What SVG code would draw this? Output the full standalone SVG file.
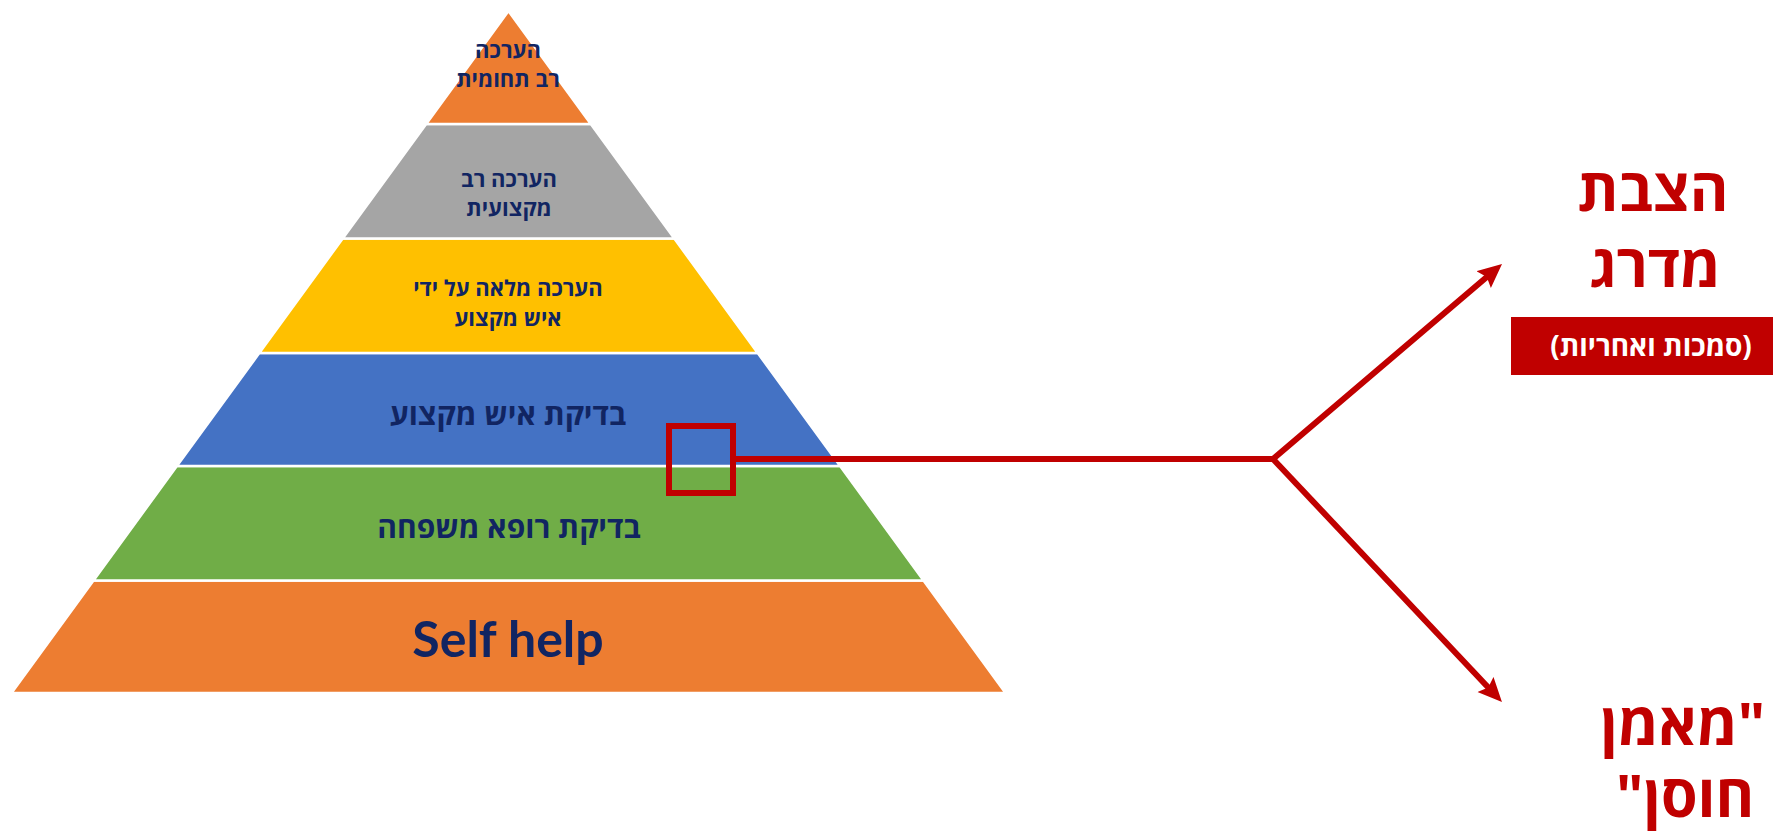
<svg xmlns="http://www.w3.org/2000/svg" width="1773" height="835" viewBox="0 0 1773 835">
<style>
.layer{stroke:#ffffff;stroke-width:2.5;stroke-linejoin:miter}
.pt{font-family:"Open Sans","Liberation Sans","DejaVu Sans",sans-serif;font-weight:700;fill:#112562;text-anchor:middle}
.red{font-family:"Open Sans","Liberation Sans","DejaVu Sans",sans-serif;font-weight:700;fill:#C00000;text-anchor:middle;font-size:59px}
.conn{fill:none;stroke:#C00000;stroke-width:6;stroke-linejoin:miter}
</style>
<defs>
<marker id="ah" markerUnits="userSpaceOnUse" markerWidth="26" markerHeight="24" refX="14" refY="11" orient="auto">
<path d="M0,0 L24,11 L0,22 L4,11 z" fill="#C00000"/>
</marker>
</defs>
<rect width="1773" height="835" fill="#ffffff"/>
<g id="level6">
<polygon class="layer" fill="#ED7D31" points="93.5,580.5 923.5,580.5 1005.5,693 11.5,693"/>
<text class="pt" x="508" y="657" style="font-family:Lato,'Open Sans',sans-serif;font-size:50px">Self help</text>
</g>
<g id="level5">
<polygon class="layer" fill="#70AD47" points="176.9,466 840.1,466 923.5,580.5 93.5,580.5"/>
<text class="pt" x="509" y="538" font-size="30">בדיקת רופא משפחה</text>
</g>
<g id="level4">
<polygon class="layer" fill="#4472C4" points="259.3,353 757.7,353 840.1,466 176.9,466"/>
<text class="pt" x="508" y="425" font-size="30">בדיקת איש מקצוע</text>
</g>
<g id="level3">
<polygon class="layer" fill="#FFC000" points="342.7,238.5 674.3,238.5 757.7,353 259.3,353"/>
<text class="pt" x="508" y="296" font-size="22">הערכה מלאה על ידי</text>
<text class="pt" x="508" y="326" font-size="22">איש מקצוע</text>
</g>
<g id="level2">
<polygon class="layer" fill="#A5A5A5" points="426.2,124 590.8,124 674.3,238.5 342.7,238.5"/>
<text class="pt" x="509" y="187" font-size="22">הערכה רב</text>
<text class="pt" x="509" y="216" font-size="22">מקצועית</text>
</g>
<g id="level1">
<polygon class="layer" fill="#ED7D31" points="508.5,11 590.8,124 426.2,124"/>
<text class="pt" x="508" y="58" font-size="22">הערכה</text>
<text class="pt" x="508" y="87" font-size="22">רב תחומית</text>
</g>
<g id="connectors">
<rect x="669" y="426" width="64" height="67" class="conn"/>
<path class="conn" d="M736,459 H1273 L1494.4,270.5" marker-end="url(#ah)"/>
<path class="conn" d="M1273,459 L1495.1,694.7" marker-end="url(#ah)"/>
</g>
<g id="label-top">
<text class="red" x="1653" y="211">הצבת</text>
<text class="red" x="1655" y="287">מדרג</text>
<rect x="1511" y="317" width="262" height="58" fill="#C00000"/>
<text x="1651" y="356" font-family="Open Sans, Liberation Sans, DejaVu Sans, sans-serif" font-weight="700" font-size="28" fill="#ffffff" text-anchor="middle">(סמכות ואחריות)</text>
</g>
<g id="label-bottom">
<text class="red"><tspan x="1683" y="745">&#x200F;"מאמן</tspan><tspan x="1685" y="817">חוסן"&#x200F;</tspan></text>
</g>
</svg>
